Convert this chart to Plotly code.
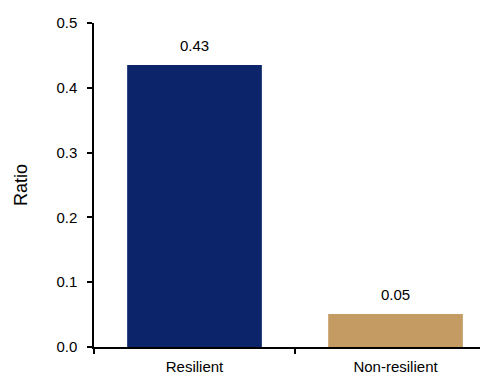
import plotly.graph_objects as go

categories = ["Resilient", "Non-resilient"]
ratios = [0.435, 0.051]
value_labels = ["0.43", "0.05"]
bar_colors = ["#0C246A", "#C49B63"]

FONT = "Liberation Sans, Arial, sans-serif"

fig = go.Figure(
    go.Bar(
        x=categories,
        y=ratios,
        width=0.67,
        marker=dict(color=bar_colors, line=dict(width=0)),
        hoverinfo="x+y",
    )
)

for cat, val, lab in zip(categories, ratios, value_labels):
    fig.add_annotation(
        x=cat, y=val, text=lab, showarrow=False,
        yanchor="bottom", yshift=9,
        font=dict(size=15, color="#000000", family=FONT),
    )

# page body has an 8px margin, so the figure is sized/placed to compensate
fig.update_layout(
    width=480,
    height=368,
    paper_bgcolor="white",
    plot_bgcolor="white",
    showlegend=False,
    font=dict(family=FONT, size=15, color="#000000"),
    margin=dict(l=86, r=0, t=15, b=29),
    xaxis=dict(
        range=[-0.5, 1.46],
        showline=True, linecolor="#000000", linewidth=1.5,
        ticks="outside", ticklen=5, tickcolor="#000000", tickwidth=1.5,
        tickson="boundaries", ticklabelstandoff=5,
        showgrid=False, zeroline=False,
    ),
    yaxis=dict(
        range=[0, 0.5],
        dtick=0.1,
        tickformat=".1f",
        showline=True, linecolor="#000000", linewidth=1.5,
        ticks="outside", ticklen=5, tickcolor="#000000", tickwidth=1.5,
        ticklabelstandoff=7,
        showgrid=False, zeroline=False,
        title=dict(text="Ratio", standoff=24),
    ),
)

fig.write_html("out.html")
